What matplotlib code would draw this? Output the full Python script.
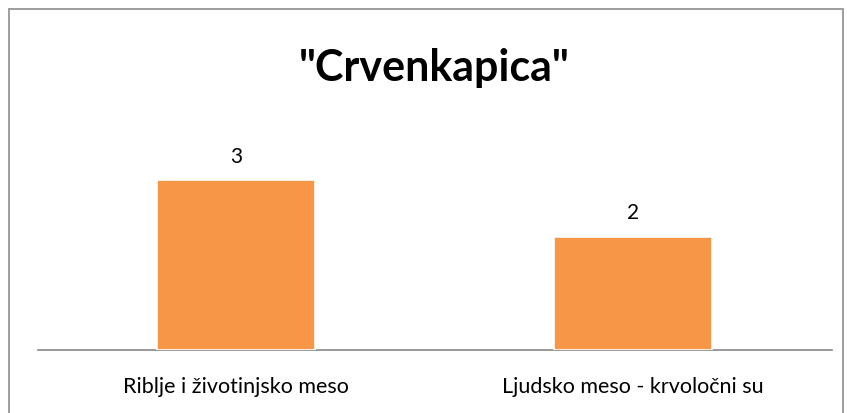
import matplotlib
matplotlib.use("Agg")
import matplotlib.pyplot as plt
from matplotlib.patches import Rectangle

categories = ["Riblje i životinjsko meso", "Ljudsko meso - krvoločni su"]
values = [3, 2]
title = '"Crvenkapica"'

plt.rcParams['font.family'] = ['Lato', 'DejaVu Sans']

W, H = 847, 414
fig = plt.figure(figsize=(W/100, H/100), dpi=100)
ax = fig.add_axes([37.5/W, 63/H, 794/W, 227/H])

x = list(range(len(categories)))
bars = ax.bar(x, values, width=0.4, color='#F79646', edgecolor='white', linewidth=1.2, zorder=3)
for xi, v in zip(x, values):
    ax.text(xi, v + 0.25, str(v), ha='center', va='bottom', fontsize=15, color='black')

ax.set_xlim(-0.5, len(categories) - 0.5)
ax.set_ylim(0, 4)
ax.set_yticks([])
ax.set_xticks(x)
ax.set_xticklabels(categories, fontsize=15.5)
ax.tick_params(axis='x', length=0, pad=19)
for s in ['top', 'right', 'left']:
    ax.spines[s].set_visible(False)
ax.spines['bottom'].set_color('#888888')
ax.spines['bottom'].set_linewidth(1.2)

fig.text(0.5 * (37.5 + 831.5) / W, 1 - 68/H, title, ha='center', va='center',
         fontsize=31, fontweight='bold', color='black')

fig.patches.append(Rectangle((8.5/W, -0.1), (843 - 8.5)/W, 1.1 - 10.5/H,
                             transform=fig.transFigure, fill=False,
                             edgecolor='#8c8c8c', linewidth=1.2))

fig.savefig('out.png', dpi=100)
